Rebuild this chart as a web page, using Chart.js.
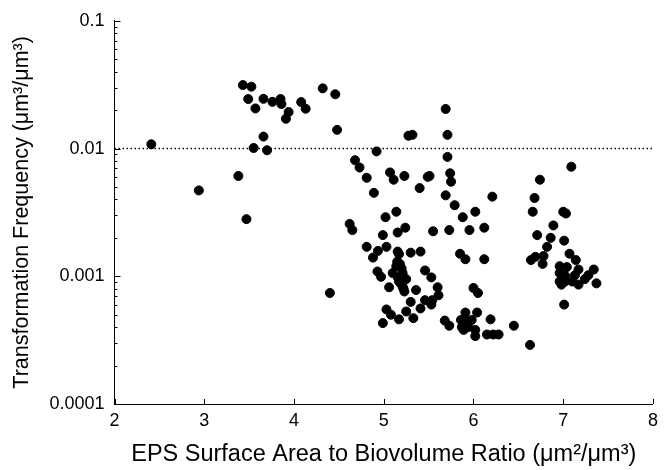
<!DOCTYPE html>
<html>
<head>
<meta charset="utf-8">
<script src="https://cdn.jsdelivr.net/npm/chart.js@4"></script>
<style>
  html, body { margin: 0; padding: 0; background: #ffffff; }
  #wrap { width: 664px; height: 470px; }
</style>
</head>
<body>
<div id="wrap"><canvas id="c" width="664" height="470"></canvas></div>
<script>
// ---- data ----
const xValues = [
  2.41, 3.43, 3.525, 3.49, 3.66, 3.57, 3.76, 3.85, 3.86, 3.94,
  3.91, 4.08, 4.13, 4.32, 4.46, 4.48, 3.66, 3.55, 3.70, 3.38,
  2.94, 3.47, 4.68, 4.73, 4.62, 4.65, 4.40, 5.69, 5.275, 5.32,
  5.71, 4.92, 5.71, 4.81, 4.89, 5.07, 5.11, 5.23, 5.40, 5.49,
  5.51, 5.74, 5.75, 5.69, 5.79, 6.21, 6.02, 5.88, 5.02, 5.14,
  4.99, 5.155, 5.24, 5.55, 5.73, 5.955, 6.12, 4.81, 4.935, 4.88,
  5.03, 5.155, 5.30, 5.41, 5.85, 5.91, 6.12, 5.15, 5.14, 4.93,
  4.97, 5.10, 5.21, 5.46, 5.53, 5.17, 5.21, 5.23, 5.06, 5.36,
  5.60, 5.61, 5.54, 5.53, 5.46, 5.30, 5.41, 5.03, 5.08, 5.25,
  5.33, 5.17, 4.99, 6.00, 6.05, 5.68, 5.73, 5.91, 6.04, 5.86,
  5.91, 5.98, 5.87, 5.94, 5.89, 6.02, 6.02, 6.19, 6.15, 6.22,
  6.28, 6.45, 7.09, 6.74, 6.68, 6.66, 7.00, 7.03, 6.89, 6.71,
  6.86, 7.01, 6.82, 7.07, 6.64, 6.69, 6.78, 6.77, 7.14, 6.96,
  7.04, 7.17, 7.34, 6.96, 7.02, 7.13, 7.28, 7.24, 6.96, 7.02,
  7.10, 7.17, 7.37, 6.98, 7.01, 6.63, 5.18, 5.20, 5.16, 5.19,
  5.22, 5.25, 5.17
];
const yValues = [
  0.0108, 0.0314, 0.0305, 0.0244, 0.0245, 0.0206, 0.0232, 0.0244, 0.0223, 0.0193,
  0.0171, 0.0231, 0.0205, 0.0296, 0.0266, 0.0140, 0.0124, 0.0101, 0.0097, 0.0061,
  0.0047, 0.0028, 0.0081, 0.0071, 0.00257, 0.0023, 0.00074, 0.0204, 0.0126, 0.0128,
  0.0128, 0.0095, 0.0086, 0.0059, 0.0045, 0.0065, 0.0057, 0.0061, 0.0049, 0.0060,
  0.0061, 0.0064, 0.0055, 0.0043, 0.0036, 0.0042, 0.0032, 0.0029, 0.0029, 0.0032,
  0.0021, 0.0022, 0.0024, 0.00225, 0.0023, 0.0023, 0.0024, 0.0017, 0.00158, 0.0014,
  0.0017, 0.00156, 0.00153, 0.00156, 0.0015, 0.00136, 0.00136, 0.0013, 0.0012, 0.00109,
  0.00099, 0.00106, 0.00106, 0.00111, 0.00098, 0.00091, 0.00083, 0.00076, 0.00082, 0.00078,
  0.00082, 0.00071, 0.00065, 0.0006, 0.00065, 0.00063, 0.00056, 0.00055, 0.0005, 0.00053,
  0.00047, 0.00046, 0.00043, 0.00081, 0.00074, 0.00045, 0.00041, 0.00052, 0.00052, 0.000455,
  0.000455, 0.000455, 0.0004, 0.0004, 0.00038, 0.00038, 0.00034, 0.00046, 0.00035, 0.00035,
  0.00035, 0.00041, 0.0072, 0.0057, 0.0041, 0.0032, 0.0032, 0.0031, 0.0025, 0.0021,
  0.0020, 0.0019, 0.0017, 0.0015, 0.00134, 0.00142, 0.00144, 0.00125, 0.00134, 0.0012,
  0.00118, 0.00113, 0.00113, 0.00106, 0.00101, 0.00102, 0.00102, 0.00095, 0.00091, 0.00091,
  0.00091, 0.00086, 0.00088, 0.00086, 0.0006, 0.00029, 0.00125, 0.00115, 0.00097, 0.00088,
  0.0008, 0.00095, 0.00149
];
const xTickValues = [2, 3, 4, 5, 6, 7, 8];
const yTickValues = [0.0001, 0.001, 0.01, 0.1];
const yTickLabels = ["0.0001", "0.001", "0.01", "0.1"];
const referenceLevel = 0.01;
const xTitle = "EPS Surface Area to Biovolume Ratio (\u03bcm\u00b2/\u03bcm\u00b3)";
const yTitle = "Transformation Frequency (\u03bcm\u00b3/\u03bcm\u00b3)";

const FONT = "'Liberation Sans', Arial, Helvetica, sans-serif";

const points = xValues.map((x, i) => ({ x: x, y: yValues[i] }));

// ticks drawn inward, using the chart's own scales
const innerTicks = {
  id: 'innerTicks',
  afterDraw(chart) {
    const ctx = chart.ctx;
    const xs = chart.scales.x, ys = chart.scales.y;
    const left = chart.chartArea.left, bottom = chart.chartArea.bottom;
    ctx.save();
    ctx.strokeStyle = '#000';
    ctx.lineWidth = 1;
    ctx.beginPath();
    for (let e = -4; e <= -1; e++) {
      const base = Math.pow(10, e);
      const yp = Math.round(ys.getPixelForValue(base)) + 0.5;
      ctx.moveTo(left, yp); ctx.lineTo(left + 6, yp);
      if (e < -1) {
        for (let k = 2; k <= 9; k++) {
          const ym = Math.round(ys.getPixelForValue(k * base)) + 0.5;
          ctx.moveTo(left, ym); ctx.lineTo(left + 3, ym);
        }
      }
    }
    xTickValues.forEach(v => {
      const xp = Math.round(xs.getPixelForValue(v)) + 0.5;
      ctx.moveTo(xp, bottom); ctx.lineTo(xp, bottom - 5);
    });
    ctx.stroke();
    ctx.restore();
  }
};

new Chart(document.getElementById('c'), {
  type: 'scatter',
  data: {
    datasets: [
      {
        type: 'line',
        data: [{ x: xTickValues[0], y: referenceLevel }, { x: xTickValues[xTickValues.length - 1], y: referenceLevel }],
        borderColor: '#000',
        borderWidth: 1.5,
        borderDash: [1.5, 2.5],
        pointRadius: 0,
        fill: false,
        order: 2
      },
      {
        data: points,
        backgroundColor: '#000',
        borderColor: '#000',
        borderWidth: 1,
        pointRadius: 4.5,
        pointHoverRadius: 4.5,
        order: 1
      }
    ]
  },
  options: {
    responsive: false,
    animation: false,
    devicePixelRatio: 1,
    layout: { padding: { top: 20, right: 4, left: 0, bottom: 0 } },
    plugins: { legend: { display: false }, tooltip: { enabled: false } },
    scales: {
      x: {
        type: 'linear',
        min: 2, max: 8,
        afterBuildTicks(scale) { scale.ticks = xTickValues.map(v => ({ value: v })); },
        afterFit(scale) { scale.height = 66; },
        grid: { display: false, drawTicks: false },
        border: { display: true, color: '#000', width: 1 },
        ticks: {
          color: '#000',
          font: { family: FONT, size: 18 },
          padding: 6,
          maxRotation: 0,
          callback: (v) => String(v)
        },
        title: {
          display: true,
          text: xTitle,
          color: '#000',
          font: { family: FONT, size: 23.5 },
          padding: { top: 0, bottom: 1 }
        }
      },
      y: {
        type: 'logarithmic',
        min: 0.0001, max: 0.1,
        afterBuildTicks(scale) { scale.ticks = yTickValues.map(v => ({ value: v })); },
        afterFit(scale) { scale.width = 114.5; },
        grid: { display: false, drawTicks: false },
        border: { display: true, color: '#000', width: 1 },
        ticks: {
          color: '#000',
          font: { family: FONT, size: 18 },
          padding: 10,
          callback: (v) => {
            const i = yTickValues.findIndex(t => Math.abs(t - v) / t < 1e-6);
            return i >= 0 ? yTickLabels[i] : '';
          }
        },
        title: {
          display: true,
          text: yTitle,
          color: '#000',
          font: { family: FONT, size: 21.5 },
          padding: { top: 9, bottom: 0 }
        }
      }
    }
  },
  plugins: [innerTicks]
});
</script>
</body>
</html>
